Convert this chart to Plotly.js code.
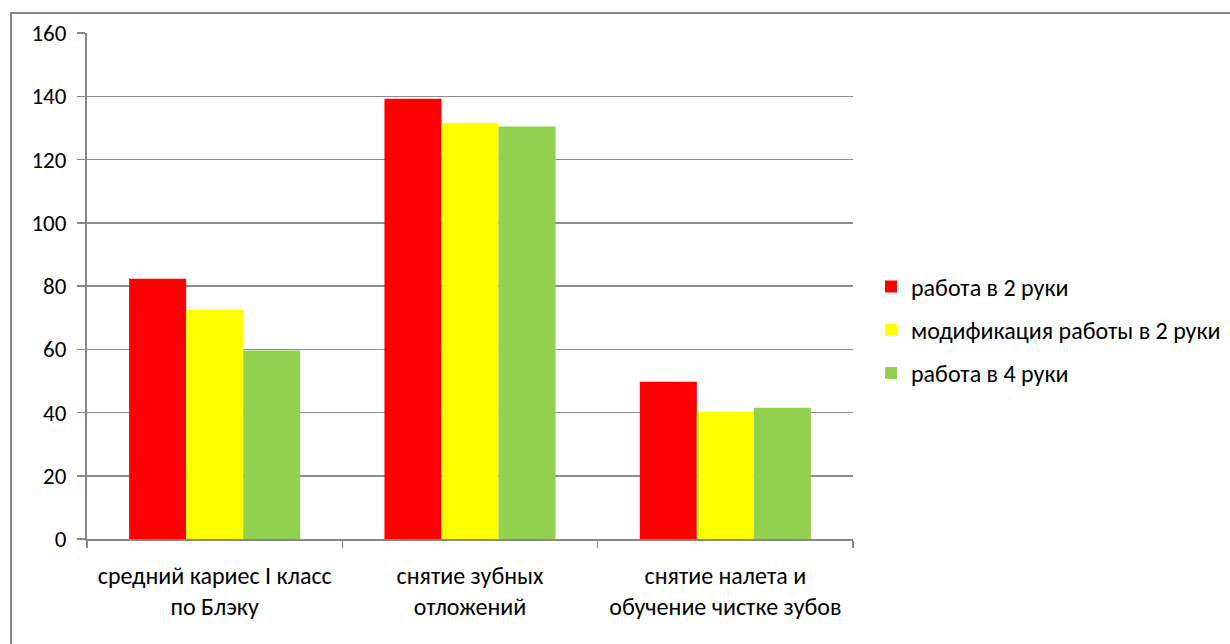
<!DOCTYPE html>
<html><head><meta charset="utf-8">
<script src="https://cdn.plot.ly/plotly-3.0.1.min.js"></script>
<style>
html,body{margin:0;padding:0;background:#fff;}
#frame{position:absolute;left:10px;top:12px;width:1230px;height:640px;border:2px solid #868686;box-sizing:border-box;}
#chart{position:absolute;left:0;top:0;width:1230px;height:644px;}
</style></head>
<body>
<div id="frame"></div>
<div id="chart"></div>
<script>
const categories = ["средний кариес I класс<br>по Блэку", "снятие зубных<br>отложений", "снятие налета и<br>обучение чистке зубов"];
const seriesNames = ["работа в 2 руки", "модификация работы в 2 руки", "работа в 4 руки"];
const series1 = [82.3, 139.2, 49.7];
const series2 = [72.5, 131.6, 40.2];
const series3 = [59.6, 130.4, 41.5];
const yTicks = [0, 20, 40, 60, 80, 100, 120, 140, 160];
const colors = ["#ff0000", "#ffff00", "#92d050"];

const values = [series1, series2, series3];
const traces = values.map((v, i) => ({
  type: "bar", x: categories, y: v, name: seriesNames[i],
  marker: {color: colors[i], line: {width: 0}},
  legendgroup: "g" + i, hoverinfo: "y"
}));

const font = "Calibri, Carlito, 'Open Sans', 'Liberation Sans', sans-serif";
const layout = {
  width: 1230, height: 644,
  margin: {l: 87, r: 377, t: 33, b: 105, autoexpand: false},
  paper_bgcolor: "rgba(0,0,0,0)", plot_bgcolor: "rgba(0,0,0,0)",
  barmode: "group", bargap: 0.33, bargroupgap: 0,
  font: {family: font, size: 24, color: "#000"},
  xaxis: {
    type: "category", tickson: "boundaries", ticks: "outside", ticklen: 7,
    tickcolor: "#868686", tickwidth: 1.5,
    showline: true, linecolor: "#868686", linewidth: 2,
    showgrid: false, tickfont: {size: 24, family: font}, automargin: false,
    ticklabelstandoff: 14
  },
  yaxis: {
    range: [0, 160], tickvals: yTicks, ticktext: yTicks.map(String),
    ticks: "outside", ticklen: 8, tickcolor: "#868686", tickwidth: 1.5,
    showline: true, linecolor: "#868686", linewidth: 2,
    showgrid: true, gridcolor: "#8c8c8c", gridwidth: 1.5, zeroline: false,
    tickfont: {size: 23, family: font}, automargin: false,
    ticklabelstandoff: 6
  },
  showlegend: true,
  legend: {
    x: 1.0235, xanchor: "left", y: 0.413, yanchor: "middle",
    font: {size: 24, family: font}, traceorder: "grouped", tracegroupgap: 9,
    itemwidth: 30, bgcolor: "rgba(0,0,0,0)"
  }
};
Plotly.newPlot("chart", traces, layout, {displayModeBar: false, staticPlot: true});
</script>
</body></html>
